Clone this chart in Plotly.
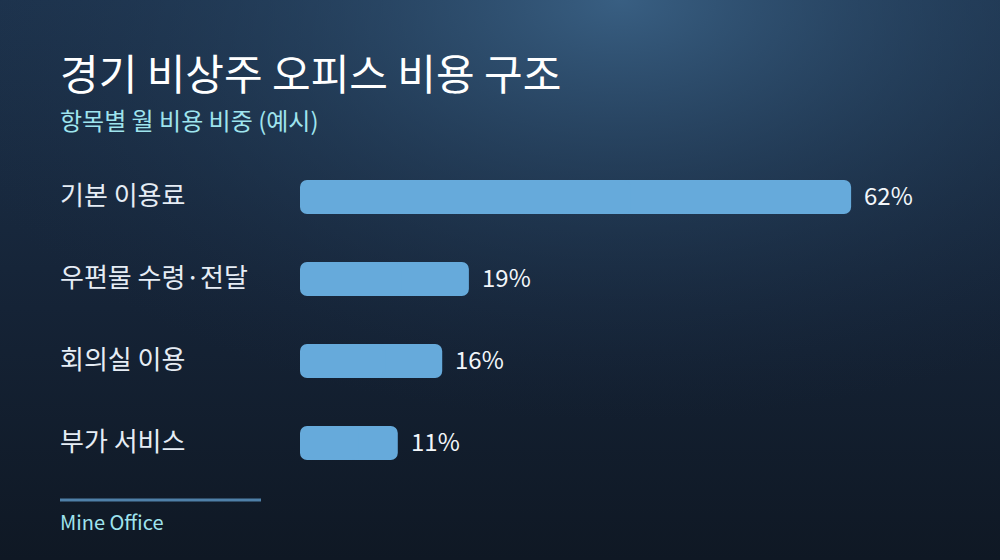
import base64
import plotly.graph_objects as go

# data
categories = ['기본 이용료', '우편물 수령·전달', '회의실 이용', '부가 서비스']
shares = [62, 19, 16, 11]
value_labels = ['62%', '19%', '16%', '11%']

title = '경기 비상주 오피스 비용 구조'
subtitle = '항목별 월 비용 비중 (예시)'
footer = 'Mine Office'

FONT = 'Noto Sans CJK KR, Noto Sans, sans-serif'
BAR_COLOR = '#66aadb'

# background: dark navy with a soft light spot at the top
svg = '''<svg xmlns="http://www.w3.org/2000/svg" width="1000" height="560" viewBox="0 0 1000 560">
<defs>
<linearGradient id="lg" x1="0" y1="0" x2="0" y2="1">
<stop offset="0" stop-color="#1d334d"/>
<stop offset="0.55" stop-color="#152336"/>
<stop offset="1" stop-color="#0f1824"/>
</linearGradient>
<radialGradient id="rg" cx="620" cy="0" r="560" gradientUnits="userSpaceOnUse" gradientTransform="translate(620 0) scale(1.3 0.75) translate(-620 0)">
<stop offset="0" stop-color="#3a6185" stop-opacity="0.95"/>
<stop offset="0.45" stop-color="#2b4a69" stop-opacity="0.5"/>
<stop offset="1" stop-color="#1a2c44" stop-opacity="0"/>
</radialGradient>
</defs>
<rect width="1000" height="560" fill="url(#lg)"/>
<rect width="1000" height="560" fill="url(#rg)"/>
</svg>'''
bg_src = 'data:image/svg+xml;base64,' + base64.b64encode(svg.encode()).decode()

fig = go.Figure()

# each bar drawn as two overlapping halves so both ends get rounded corners
fig.add_trace(go.Bar(
    y=categories,
    x=[v * 0.6 for v in shares],
    base=[v * 0.4 for v in shares],
    orientation='h',
    width=0.415,
    marker=dict(color=BAR_COLOR, line=dict(width=0), cornerradius=7),
    hoverinfo='skip',
    showlegend=False
))
fig.add_trace(go.Bar(
    y=categories,
    x=[-v * 0.6 for v in shares],
    base=[v * 0.6 for v in shares],
    orientation='h',
    width=0.415,
    marker=dict(color=BAR_COLOR, line=dict(width=0), cornerradius=7),
    hoverinfo='skip',
    showlegend=False
))

annotations = []
# category labels, left aligned
for cat in categories:
    annotations.append(dict(
        x=0.058, xref='paper', xanchor='left',
        y=cat, yref='y', yanchor='middle', yshift=4,
        text=cat, showarrow=False,
        font=dict(size=26, color='#e6edf5', family=FONT)
    ))
# value labels after each bar
for cat, v, lab in zip(categories, shares, value_labels):
    annotations.append(dict(
        x=v, xref='x', xanchor='left', xshift=11,
        y=cat, yref='y', yanchor='middle', yshift=3,
        text=lab, showarrow=False,
        font=dict(size=24, color='#f2f6fa', family=FONT)
    ))

annotations += [
    dict(x=0.058, xref='paper', xanchor='left', y=0.872, yref='paper', yanchor='middle',
         text=title, showarrow=False, font=dict(size=42, color='#ffffff', family=FONT)),
    dict(x=0.058, xref='paper', xanchor='left', y=0.7864, yref='paper', yanchor='middle',
         text=subtitle, showarrow=False, font=dict(size=24, color='#9fe4ee', family=FONT)),
    dict(x=0.058, xref='paper', xanchor='left', y=0.068, yref='paper', yanchor='middle',
         text=footer, showarrow=False, font=dict(size=20, color='#9fe4ee', family=FONT)),
]

fig.update_layout(
    width=1000,
    height=560,
    barmode='overlay',
    paper_bgcolor='#131f2f',
    plot_bgcolor='rgba(0,0,0,0)',
    margin=dict(l=0, r=0, t=0, b=0),
    font=dict(family=FONT, color='#ffffff'),
    xaxis=dict(domain=[0.3, 0.94], range=[0, 72], visible=False, fixedrange=True),
    yaxis=dict(domain=[0.1357, 0.7214], range=[3.5, -0.5], visible=False,
               categoryorder='array', categoryarray=categories, fixedrange=True),
    annotations=annotations,
    shapes=[dict(type='line', xref='paper', yref='paper', x0=0.06, x1=0.261, y0=0.107, y1=0.107,
                 line=dict(color='#4f80a8', width=3))],
    images=[dict(source=bg_src, xref='paper', yref='paper', x=0, y=1, sizex=1, sizey=1,
                 sizing='stretch', xanchor='left', yanchor='top', layer='below')],
)

# drop the page's default body margin so the figure fills the window
fig.write_html('out.html', config={'displayModeBar': False},
               post_script="document.body.style.margin='0';document.body.style.overflow='hidden';")
